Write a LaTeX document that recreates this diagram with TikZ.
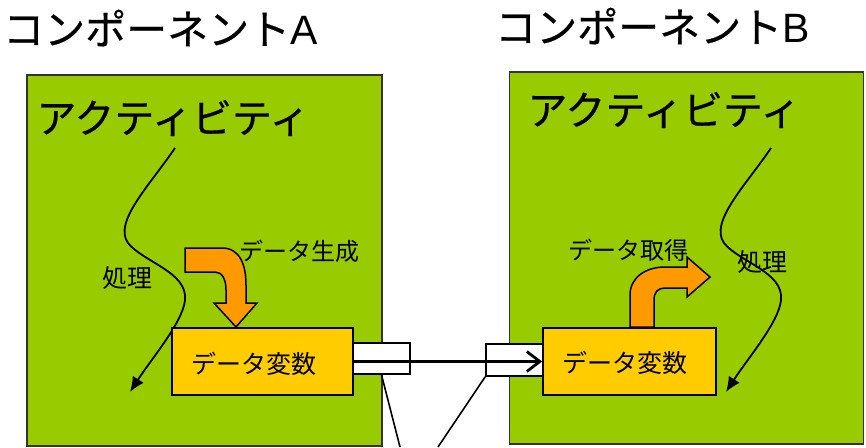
\documentclass[tikz,border=0pt]{standalone}
\usepackage{fontspec}
\setmainfont{Liberation Sans}
\newfontfamily\jp{Noto Sans CJK JP}
\newfontfamily\jpb[FakeBold=0.5]{Noto Sans CJK JP}
\usetikzlibrary{arrows.meta}
\definecolor{grn}{RGB}{153,204,0}
\definecolor{org}{RGB}{255,153,0}
\definecolor{yel}{RGB}{255,204,0}
\begin{document}
\begin{tikzpicture}[x=1pt,y=-1pt,
  gbox/.style={draw=black!80,line width=1.8pt,fill=grn,inner sep=0pt},
  ybox/.style={draw=black,line width=1.8pt,fill=yel,inner sep=0pt,minimum width=181pt,minimum height=67pt},
  port/.style={draw=black,line width=1.7pt,fill=white,inner sep=0pt,minimum width=57pt,minimum height=31pt},
  oarrow/.style={draw=black,line width=1.5pt,fill=org,line join=miter},
  flow/.style={line width=1.8pt,-{Latex[length=15pt,width=13pt]}},
  title/.style={font=\jpb\fontsize{41}{45}\selectfont,inner sep=0pt},
  big/.style={font=\jpb\fontsize{40}{44}\selectfont,inner sep=0pt},
  lbl/.style={font=\jp\fontsize{24}{28}\selectfont,inner sep=0pt},
  mid/.style={font=\jp\fontsize{25}{29}\selectfont,inner sep=0pt}]
\useasboundingbox (0,0) rectangle (866,447);
% green component boxes
\node[gbox,minimum width=355pt,minimum height=371pt] (ga) at (204.5,260.5) {};
\node[gbox,minimum width=354pt,minimum height=372pt] (gb) at (686.5,258) {};
% titles
\node[title,anchor=west] (ta) at (3,28) {コンポーネント{\rmfamily A}};
\node[title,anchor=west] (tb) at (495,26) {コンポーネント{\rmfamily B}};
\node[big] (aa) at (173,118) {アクティビティ};
\node[big] (ab) at (664,110) {アクティビティ};
% process curves
\coordinate (ca0) at (175,148);
\coordinate (ca1) at (130,392);
\draw[flow] (ca0) .. controls (150,185) and (113,222) .. (128,243)
  .. controls (143,262) and (188,272) .. (185,300)
  .. controls (183,322) and (152,358) .. (ca1);
\coordinate (cb0) at (771,148);
\coordinate (cb1) at (726,392);
\draw[flow] (cb0) .. controls (746,185) and (709,222) .. (724,243)
  .. controls (739,262) and (784,272) .. (781,300)
  .. controls (779,322) and (748,358) .. (cb1);
\node[mid] (pa) at (127,278) {処理};
\node[mid] (pb) at (762,262) {処理};
% orange arrows
\draw[oarrow] (185,248) -- (222,248) .. controls (240,248) and (246,265) .. (246,285)
  -- (246,303) -- (257,303) -- (236,327) -- (214,303) -- (226,303) -- (226,290)
  .. controls (226,279) and (222,272) .. (215,272) -- (185,272) -- cycle;
\draw[oarrow] (630,327) -- (630,295) .. controls (630,278) and (645,267) .. (665,267)
  -- (687,267) -- (687,257) -- (710,277) -- (687,297) -- (687,288) -- (665,288)
  .. controls (658,288) and (654,292) .. (654,300) -- (654,327) -- cycle;
\node[lbl] (la) at (299,251) {データ生成};
\node[lbl] (lb) at (628,250) {データ取得};
% data variable boxes
\node[ybox] (ya) at (262.5,361.5) {};
\node[ybox,minimum width=173pt] (yb) at (629.5,361.5) {};
\node[mid] (va) at (254,364) {データ変数};
\node[mid] (vb) at (624.5,363) {データ変数};
% ports
\node[port] (qa) at (381.5,358.5) {};
\node[port,minimum height=32pt] (qb) at (514.5,360) {};
% transfer arrow
\draw[line width=2.8pt,-{Straight Barb[length=13pt,width=20pt]}] (ya.east) -- (yb.west);
% callout lines
\coordinate (ea) at (400,447);
\coordinate (eb) at (438,447);
\draw[line width=1.6pt] (qa.south) -- (ea);
\draw[line width=1.6pt] (qb.south west) -- (eb);
\end{tikzpicture}
\end{document}
